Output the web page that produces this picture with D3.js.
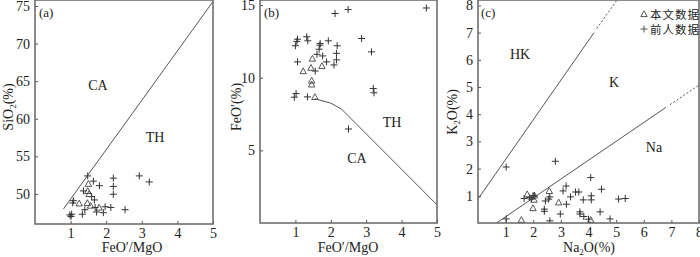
<!DOCTYPE html>
<html>
<head>
<meta charset="utf-8">
<script src="https://cdn.jsdelivr.net/npm/d3@7"></script>
<style>
body { margin: 0; background: #fff; }
text { font-family: "Liberation Serif", "Times New Roman", serif; fill: #222; }
</style>
</head>
<body>
<svg width="700" height="257"></svg>
<script>
// (a) SiO2 vs FeO'/MgO
var aTri = [[1.5, 51.35], [1.48, 50.4], [1.52, 50.0], [1.24, 48.75], [1.47, 48.8], [1.56, 48.45], [1.8, 48.2]];
var aCross = [[1.48, 52.4], [1.64, 51.7], [1.81, 51.1], [2.2, 52.1], [2.2, 51.0], [2.2, 49.96], [2.93, 52.4],
    [3.21, 51.6], [1.36, 50.4], [1.59, 49.65], [1.67, 49.2], [1.08, 49.1], [1.06, 48.8], [1.69, 48.2],
    [1.97, 48.3], [2.13, 48.2], [1.4, 47.9], [1.73, 47.6], [1.92, 47.5], [2.53, 47.9], [1.03, 47.3],
    [1.01, 47.0], [1.33, 47.3], [0.98, 47.2]];
var aLine = [[0.8, 48.0], [5, 75.6]];
var aXTicks = [1, 2, 3, 4, 5];
var aYTicks = [50, 55, 60, 65, 70, 75];

// (b) FeO' vs FeO'/MgO
var bTri = [[1.48, 11.32], [1.22, 10.46], [1.44, 10.69], [1.75, 10.81], [1.46, 9.81], [1.46, 9.54], [1.55, 8.68]];
var bCross = [[2.12, 14.42], [2.49, 14.69], [4.7, 14.8], [1.06, 12.65], [1.04, 12.5], [1.32, 12.82],
    [1.35, 12.54], [1.0, 12.2], [1.93, 12.54], [1.69, 12.24], [1.7, 12.36], [2.18, 12.2], [2.87, 12.7],
    [3.15, 11.78], [1.67, 11.96], [2.16, 11.68], [1.61, 11.61], [1.77, 11.5], [1.06, 11.09], [1.88, 11.09],
    [2.16, 11.23], [2.09, 10.88], [1.56, 10.46], [1.02, 8.91], [0.97, 8.66], [1.34, 8.68], [3.2, 9.26],
    [3.22, 8.96], [2.5, 6.47]];
var bLine = [[1.55, 8.55], [2.0, 8.25], [2.3, 7.85], [5, 1.25]];
var bXTicks = [1, 2, 3, 4, 5];
var bYTicks = [5, 10, 15];

// (c) K2O vs Na2O
var cTri = [[1.78, 1.06], [2.04, 1.02], [2.03, 0.86], [1.99, 0.55], [2.58, 1.18], [2.92, 0.76], [1.57, 0.12], [4.08, 0.12]];
var cCross = [[1.02, 2.06], [2.8, 2.27], [4.08, 1.67], [4.47, 1.24], [3.19, 1.36], [3.08, 1.18], [3.53, 1.14],
    [3.65, 1.14], [3.35, 0.96], [4.1, 1.0], [4.1, 0.85], [3.81, 0.85], [3.2, 0.69], [5.09, 0.88], [5.33, 0.9],
    [3.69, 0.41], [3.69, 0.33], [3.83, 0.24], [4.0, 0.14], [4.42, 0.41], [4.78, 0.15], [2.98, 0.33],
    [2.6, 0.08], [2.4, 0.51], [2.4, 0.43], [2.44, 0.81], [2.56, 0.88], [2.6, 0.96], [1.67, 0.9], [1.87, 0.94],
    [1.99, 1.0], [1.93, 0.88], [1.02, 0.15], [2.04, 1.0]];
var cLine1 = [[0, 0.88], [4.2, 7.0]];
var cLine1Dash = [[4.3, 7.15], [5.1, 8.3]];
var cLine2 = [[0.67, 0], [6.8, 4.25]];
var cLine2Dash = [[6.95, 4.35], [8, 5.07]];
var cXTicks = [1, 2, 3, 4, 5, 6, 7, 8];
var cYTicks = [1, 2, 3, 4, 5, 6, 7, 8];
var legendLabels = ["本文数据", "前人数据"];

var svg = d3.select("svg");

function subText(g, parts, attrs) {
    // parts: [text, subscript, text]
    var t = g.append("text");
    for (var k in attrs) t.attr(k, attrs[k]);
    t.append("tspan").text(parts[0]);
    t.append("tspan").attr("font-size", "9px").attr("dy", 3).text(parts[1]);
    t.append("tspan").attr("dy", -3).text(parts[2]);
    return t;
}

var crossPath = "M-3.5,0H3.5M0,-3.5V3.5";
var triPath = "M0,-3.2L3.2,2.6L-3.2,2.6Z";

function panel(p) {
    var x = d3.scaleLinear().domain(p.xd).range(p.xr);
    var y = d3.scaleLinear().domain(p.yd).range(p.yr);
    var g = svg.append("g");

    var clipId = "clip" + p.name;
    svg.append("clipPath").attr("id", clipId).append("rect")
        .attr("x", p.xr[0]).attr("y", p.yr[1])
        .attr("width", p.xr[1] - p.xr[0]).attr("height", p.yr[0] - p.yr[1]);

    function styleAxis(a) {
        a.select(".domain").remove();
        a.selectAll(".tick line").attr("stroke", "#555");
        a.selectAll("text").attr("font-size", "14px").attr("font-family", "Liberation Serif").attr("fill", "#222");
    }
    g.append("g")
        .attr("transform", "translate(0," + p.yr[0] + ")")
        .call(d3.axisBottom(x).tickValues(p.xt).tickFormat(d3.format("d")).tickSize(-3).tickPadding(4))
        .call(styleAxis);
    g.append("g")
        .attr("transform", "translate(" + p.xr[0] + ",0)")
        .call(d3.axisLeft(y).tickValues(p.yt).tickFormat(d3.format("d")).tickSize(-3).tickPadding(5))
        .call(styleAxis);

    var line = d3.line().x(function (d) { return x(d[0]); }).y(function (d) { return y(d[1]); });
    var inner = g.append("g").attr("clip-path", "url(#" + clipId + ")");
    p.lines.forEach(function (l) {
        inner.append("path").attr("d", line(l.pts)).attr("fill", "none")
            .attr("stroke", "#555").attr("stroke-width", 1)
            .attr("stroke-dasharray", l.dash ? "2,2" : null);
    });

    inner.selectAll(".cross").data(p.cross).enter().append("path")
        .attr("transform", function (d) { return "translate(" + x(d[0]) + "," + y(d[1]) + ")"; })
        .attr("d", crossPath)
        .attr("stroke", "#333").attr("stroke-width", 1).attr("fill", "none");
    inner.selectAll(".tri").data(p.tri).enter().append("path")
        .attr("transform", function (d) { return "translate(" + x(d[0]) + "," + y(d[1]) + ")"; })
        .attr("d", triPath)
        .attr("stroke", "#444").attr("stroke-width", 0.9).attr("fill", "none");

    g.append("rect")
        .attr("x", p.xr[0]).attr("y", p.yr[1])
        .attr("width", p.xr[1] - p.xr[0]).attr("height", p.yr[0] - p.yr[1])
        .attr("fill", "none").attr("stroke", "#666").attr("stroke-width", 1.5);

    p.labels.forEach(function (l) {
        g.append("text").attr("x", l[1]).attr("y", l[2])
            .attr("text-anchor", l[3] || "middle").attr("font-size", l[4] || "14px")
            .text(l[0]);
    });
    return g;
}

var ga = panel({
    name: "a", xd: [0, 5], xr: [35, 213], yd: [46, 75.8], yr: [224, 0],
    xt: aXTicks, yt: aYTicks, cross: aCross, tri: aTri,
    lines: [{ pts: aLine }],
    labels: [["CA", 98, 90], ["TH", 155, 142], ["(a)", 39, 17, "start", "13px"]]
});
ga.append("text").attr("x", 132).attr("y", 252).attr("text-anchor", "middle")
    .attr("font-size", "14px").text("FeO′/MgO");
subText(ga, ["SiO", "2", "(%)"], {
    "transform": "translate(13,107) rotate(-90)", "text-anchor": "middle", "font-size": "14px"
});

var gb = panel({
    name: "b", xd: [0, 5], xr: [260, 437], yd: [0, 15.35], yr: [223, 0],
    xt: bXTicks, yt: bYTicks, cross: bCross, tri: bTri,
    lines: [{ pts: bLine }],
    labels: [["TH", 392, 127], ["CA", 357, 163], ["(b)", 264, 17, "start", "13px"]]
});
gb.append("text").attr("x", 348).attr("y", 252).attr("text-anchor", "middle")
    .attr("font-size", "14px").text("FeO′/MgO");
gb.append("text").attr("transform", "translate(241,107) rotate(-90)").attr("text-anchor", "middle")
    .attr("font-size", "14px").text("FeO′(%)");

var gc = panel({
    name: "c", xd: [0, 8], xr: [478, 699], yd: [0, 8.2], yr: [223, 0],
    xt: cXTicks, yt: cYTicks, cross: cCross, tri: cTri,
    lines: [{ pts: cLine1 }, { pts: cLine1Dash, dash: true }, { pts: cLine2 }, { pts: cLine2Dash, dash: true }],
    labels: [["HK", 520, 59], ["K", 614, 87], ["Na", 654, 152], ["(c)", 481, 17, "start", "13px"]]
});
subText(gc, ["Na", "2", "O(%)"], {
    "x": 589, "y": 252, "text-anchor": "middle", "font-size": "14px"
});
subText(gc, ["K", "2", "O(%)"], {
    "transform": "translate(457,112) rotate(-90)", "text-anchor": "middle", "font-size": "14px"
});
// legend: marker + label
var leg = gc.selectAll(".leg").data(legendLabels).enter().append("g")
    .attr("transform", function (d, i) { return "translate(644," + (14 + i * 15) + ")"; });
leg.append("path")
    .attr("d", function (d, i) { return i === 0 ? triPath : crossPath; })
    .attr("stroke", "#444").attr("stroke-width", 0.9).attr("fill", "none");
leg.append("text")
    .attr("x", 6).attr("y", 4.5).attr("font-size", "11.5px")
    .attr("letter-spacing", "1px")
    .style("font-family", "'Noto Sans CJK SC', sans-serif")
    .text(function (d) { return d; });
</script>
</body>
</html>
